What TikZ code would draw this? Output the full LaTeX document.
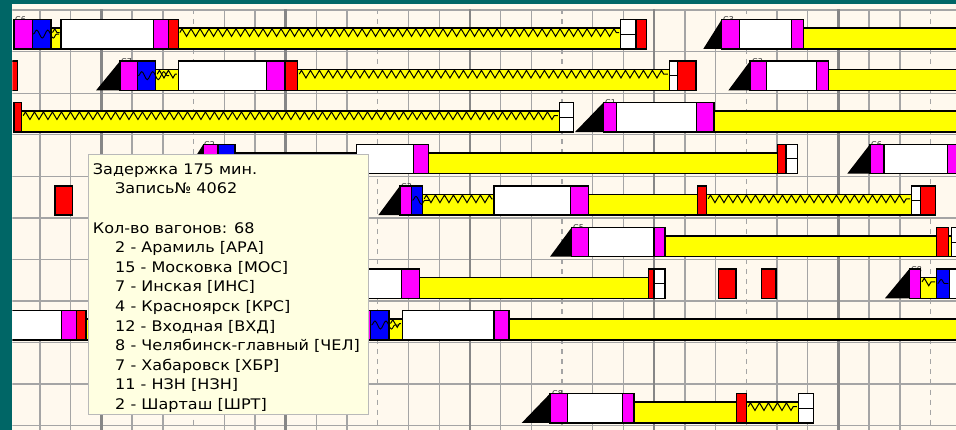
\documentclass[tikz,border=0pt]{standalone}
\usepackage{fontspec}
\usetikzlibrary{decorations.pathmorphing}
\newfontfamily\tipfont[FakeStretch=1.1]{DejaVu Sans}
\newfontfamily\lblfont{DejaVu Sans}
\definecolor{teal0}{RGB}{0,102,102}
\definecolor{cream}{RGB}{255,249,238}
\definecolor{tipbg}{RGB}{255,255,225}
\definecolor{gridc}{RGB}{165,165,165}
\definecolor{gridk}{RGB}{135,135,135}
\definecolor{mag}{RGB}{255,0,255}
\definecolor{blu}{RGB}{0,0,255}
\definecolor{yel}{RGB}{255,255,0}
\definecolor{rd}{RGB}{255,0,0}
\tikzset{
 blockline/.style={draw=black, line width=1.5pt},
 zzline/.style={draw=black, line width=1pt, decorate, decoration={zigzag, segment length=9pt, amplitude=3.8pt}},
 wvline/.style={draw=black, line width=0.9pt, decorate, decoration={snake, segment length=11pt, amplitude=4pt}},
 gridthin/.style={draw=gridc, line width=1.4pt},
 gridthick/.style={draw=gridk, line width=2.4pt},
 griddash/.style={draw=gridc, line width=1.3pt, dash pattern=on 5pt off 5pt},
 tiptext/.style={anchor=base west, inner sep=0pt, font=\tipfont\fontsize{14.6}{16}\selectfont, text=black},
 lbltext/.style={anchor=south west, inner sep=0pt, font=\lblfont\fontsize{8}{9}\selectfont, text=black!80},
}
\newcommand{\RT}[1]{\pgfmathsetmacro{\trRow}{10.1+41.56*#1}}
\newcommand{\Blk}[4]{\RT{#4}\filldraw[fill=#1, blockline] (#2,\trRow+9.5) rectangle (#3,\trRow+38.8);}
\newcommand{\Ybar}[3]{\RT{#3}\filldraw[fill=yel, blockline] (#1,\trRow+18) rectangle (#2,\trRow+38.8);}
\newcommand{\Zbar}[3]{\Ybar{#1}{#2}{#3}\draw[zzline] (#1+1.5,\trRow+22.5) -- (#2-1.5,\trRow+22.5);}
\newcommand{\Wv}[3]{\RT{#3}\draw[wvline] (#1+1,\trRow+24) -- (#2-1,\trRow+24);}
\newcommand{\Wdiv}[3]{\RT{#3}\filldraw[fill=white, blockline] (#1,\trRow+9.5) rectangle (#2,\trRow+38.8); \draw[line width=1pt] (#1,\trRow+24.15) -- (#2,\trRow+24.15);}
\newcommand{\Tri}[3]{\RT{#3}\fill[black] (#1,\trRow+38.8) -- (#2,\trRow+38.8) -- (#2,\trRow+9.5) -- cycle;}
\newcommand{\Lbl}[3]{\RT{#2}\node[lbltext] at (#1,\trRow+13) {#3};}
\begin{document}
\begin{tikzpicture}[x=1pt,y=-1pt]
\useasboundingbox (0,0) rectangle (956,430);
\fill[teal0] (0,0) rectangle (956,430);
\fill[cream] (12.3,3.7) rectangle (956,430);
\begin{scope}
\clip (12.3,3.7) rectangle (956,430);
% grid
\foreach \j in {0,...,10} {\draw[gridthin] (12,{10.1+41.56*\j}) -- (956,{10.1+41.56*\j});}
\foreach \k in {0,...,29} {
  \pgfmathsetmacro{\gx}{40+30.71*\k}
  \pgfmathtruncatemacro{\gm}{mod(\k,6)}
  \ifnum\gm=2 \draw[gridthick] (\gx,9.5) -- (\gx,430);
  \else\ifnum\gm=5 \draw[griddash] (\gx,9.5) -- (\gx,430);
  \else \draw[gridthin] (\gx,9.5) -- (\gx,430);
  \fi\fi
}
% labels (partly hidden behind blocks)
\Lbl{15}{0}{С6}
\Lbl{723}{0}{С3}
\Lbl{121}{1}{С7}
\Lbl{752}{1}{С3}
\Lbl{605}{2}{С1}
\Lbl{204}{3}{С2}
\Lbl{871}{3}{С6}
\Lbl{401}{4}{С3}
\Lbl{573}{5}{С5}
\Lbl{911}{6}{С8}
\Lbl{358}{7}{С8}
\Lbl{552}{9}{С8}
% row 0
\Blk{mag}{14}{32.3}{0}
\Blk{blu}{32.3}{51}{0}
\Zbar{51}{61}{0}
\Wv{32.3}{60}{0}
\Blk{white}{61}{153.3}{0}
\Blk{mag}{153.3}{168.3}{0}
\Blk{rd}{168.3}{178.3}{0}
\Zbar{178.3}{620.7}{0}
\Wdiv{620.7}{636}{0}
\Blk{rd}{636}{646.7}{0}
\Tri{703.3}{721.7}{0}
\Blk{mag}{721.7}{739.3}{0}
\Blk{white}{739.3}{791.7}{0}
\Blk{mag}{791.7}{803.3}{0}
\Ybar{803.3}{962}{0}
% row 1
\Blk{rd}{6}{17.3}{1}
\Tri{96}{120}{1}
\Blk{mag}{120}{137.3}{1}
\Blk{blu}{137.3}{155.7}{1}
\Zbar{155.7}{178.3}{1}
\Wv{137.3}{170}{1}
\Blk{white}{178.3}{266.7}{1}
\Blk{mag}{266.7}{285}{1}
\Blk{rd}{285}{297.7}{1}
\Zbar{297.7}{669.3}{1}
\Wdiv{669.3}{677.3}{1}
\Blk{rd}{677.3}{696}{1}
\Tri{728.3}{750}{1}
\Blk{mag}{750}{766.7}{1}
\Blk{white}{766.7}{816.7}{1}
\Blk{mag}{816.7}{828.3}{1}
\Ybar{828.3}{962}{1}
% row 2
\Blk{rd}{14}{21.7}{2}
\Zbar{21.7}{559.3}{2}
\Wdiv{559.3}{573.3}{2}
\Tri{575}{603.3}{2}
\Blk{mag}{603.3}{616.7}{2}
\Blk{white}{616.7}{696.7}{2}
\Blk{mag}{696.7}{714}{2}
\Ybar{714}{962}{2}
% row 3
\Tri{185}{203.3}{3}
\Blk{mag}{203.3}{218}{3}
\Blk{blu}{218}{235}{3}
\Zbar{235}{356.7}{3}
\Blk{white}{356.7}{413.3}{3}
\Blk{mag}{413.3}{428.3}{3}
\Ybar{428.3}{777.3}{3}
\Blk{rd}{777.3}{786}{3}
\Wdiv{786}{797.3}{3}
\Tri{847.3}{870}{3}
\Blk{mag}{870}{884}{3}
\Blk{white}{884}{947.3}{3}
\Blk{mag}{947.3}{966}{3}
% row 4
\Blk{rd}{55}{72.7}{4}
\Tri{378.3}{400}{4}
\Blk{mag}{400}{411.5}{4}
\Blk{blu}{411.5}{422.7}{4}
\Zbar{422.7}{494}{4}
\Wv{411.5}{430}{4}
\Blk{white}{494}{570.7}{4}
\Blk{mag}{570.7}{588.3}{4}
\Ybar{588.3}{697.3}{4}
\Blk{rd}{697.3}{706.7}{4}
\Zbar{706.7}{911.7}{4}
\Wdiv{911.7}{920.7}{4}
\Blk{rd}{920.7}{935.3}{4}
% row 5
\Tri{550}{571.7}{5}
\Blk{mag}{571.7}{588.3}{5}
\Blk{white}{588.3}{654}{5}
\Blk{mag}{654}{665}{5}
\Ybar{665}{936.7}{5}
\Blk{rd}{936.7}{948.3}{5}
\Ybar{948.3}{951.7}{5}
\Wdiv{951.7}{966}{5}
% row 6
\Blk{white}{300}{401.7}{6}
\Blk{mag}{401.7}{419.3}{6}
\Ybar{419.3}{648.3}{6}
\Blk{rd}{648.3}{654}{6}
\Wdiv{654}{665}{6}
\Blk{rd}{718.3}{736}{6}
\Blk{rd}{761.7}{776}{6}
\Tri{885}{909.3}{6}
\Blk{mag}{909.3}{920.5}{6}
\Zbar{920.5}{936.7}{6}
\Blk{blu}{936.7}{949.3}{6}
\Wv{936.7}{949.3}{6}
\Blk{white}{949.3}{966}{6}
% row 7
\Blk{white}{4}{61.7}{7}
\Blk{mag}{61.7}{76.5}{7}
\Blk{rd}{76.5}{86}{7}
\Ybar{86}{330}{7}
\Tri{335}{355}{7}
\Blk{mag}{355}{370.5}{7}
\Blk{blu}{370.5}{389}{7}
\Zbar{389}{402.3}{7}
\Wv{370.5}{400}{7}
\Blk{white}{402.3}{494}{7}
\Blk{mag}{494}{509}{7}
\Ybar{509}{962}{7}
% row 9
\Tri{521.7}{550}{9}
\Blk{mag}{550}{567.3}{9}
\Blk{white}{567.3}{622.7}{9}
\Blk{mag}{622.7}{634}{9}
\Ybar{634}{736.7}{9}
\Blk{rd}{736.7}{746.7}{9}
\Zbar{746.7}{798.3}{9}
\Wdiv{798.3}{813.3}{9}
% tooltip
\node[name=tip, draw=gray!55, line width=1pt, fill=tipbg, minimum width=280.5pt, minimum height=260pt, anchor=north west, inner sep=0pt] at (87.5,154) {};
\node[tiptext, name=t1] at (92.7,174.3) {Задержка 175 мин.};
\node[tiptext, name=t2] at (115,193.9) {Запись№ 4062};
\node[tiptext, name=t3] at (92.7,233.1) {Кол-во вагонов: 68};
\node[tiptext, name=t4] at (115,252.7) {2 - Арамиль [АРА]};
\node[tiptext, name=t5] at (115,272.3) {15 - Московка [МОС]};
\node[tiptext, name=t6] at (115,291.9) {7 - Инская [ИНС]};
\node[tiptext, name=t7] at (115,311.5) {4 - Красноярск [КРС]};
\node[tiptext, name=t8] at (115,331.1) {12 - Входная [ВХД]};
\node[tiptext, name=t9] at (115,350.7) {8 - Челябинск-главный [ЧЕЛ]};
\node[tiptext, name=t10] at (115,370.3) {7 - Хабаровск [ХБР]};
\node[tiptext, name=t11] at (115,389.9) {11 - НЗН [НЗН]};
\node[tiptext, name=t12] at (115,409.5) {2 - Шарташ [ШРТ]};
\end{scope}
\end{tikzpicture}
\end{document}
